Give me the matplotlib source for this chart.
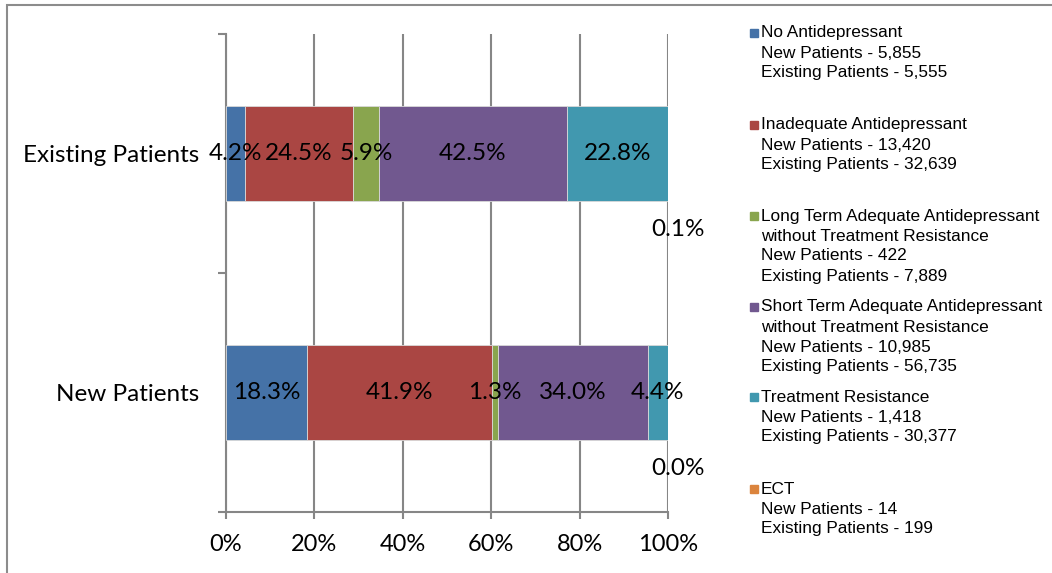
import matplotlib

matplotlib.use("Agg")
import matplotlib.pyplot as plt
from matplotlib.patches import Rectangle

# data
groups = ["New Patients", "Existing Patients"]
series = [
    "No Antidepressant",
    "Inadequate Antidepressant",
    "Long Term Adequate Antidepressant\nwithout Treatment Resistance",
    "Short Term Adequate Antidepressant\nwithout Treatment Resistance",
    "Treatment Resistance",
    "ECT",
]
new_pct = [18.3, 41.9, 1.3, 34.0, 4.4, 0.0]
existing_pct = [4.2, 24.5, 5.9, 42.5, 22.8, 0.1]
new_counts = ["5,855", "13,420", "422", "10,985", "1,418", "14"]
existing_counts = ["5,555", "32,639", "7,889", "56,735", "30,377", "199"]
colors = ["#4572A7", "#AA4643", "#89A54E", "#71588F", "#4198AF", "#DB843D"]

W, H = 1052, 573
fig = plt.figure(figsize=(W / 100, H / 100), dpi=100)
fig.patches.append(Rectangle((7 / W, -0.1), 1.2, 1 - 5 / H + 0.1, transform=fig.transFigure,
                             fill=False, edgecolor="#8c8c8c", linewidth=1.5))

ax = fig.add_axes([226 / W, 1 - 512 / H, 442 / W, 478 / H])
grid_c = "#868686"
label_font = ["Lato", "DejaVu Sans"]

rows = [new_pct, existing_pct]
for yi, vals in enumerate(rows):
    left = 0.0
    for si, v in enumerate(vals):
        ax.barh(yi, v, left=left, height=0.4, color=colors[si], edgecolor="#d9d9d9",
                linewidth=0.6, zorder=3)
        cx = left + v / 2
        if si == len(vals) - 1:
            # tiny ECT segment: label drops below the bar
            ax.text(102.3, yi - 0.32, f"{v:.1f}%", ha="center", va="center",
                    fontsize=17.5, family=label_font, zorder=4)
        else:
            ax.text(cx, yi, f"{v:.1f}%", ha="center", va="center", fontsize=17.5,
                    family=label_font, zorder=4)
        left += v

ax.set_xlim(0, 100)
ax.set_ylim(-0.5, 1.5)
ax.set_xticks(range(0, 101, 20))
ax.set_xticklabels([f"{t}%" for t in range(0, 101, 20)], fontsize=17, family=label_font)
ax.set_yticks([0, 1])
ax.set_yticklabels(groups, fontsize=17.5, family=label_font)
ax.set_yticks([-0.5, 0.5, 1.5], minor=True)
ax.tick_params(axis="y", which="major", length=0, pad=19)
ax.tick_params(axis="y", which="minor", length=6, width=1.5, color=grid_c, direction="out")
ax.tick_params(axis="x", length=5, width=1.5, color=grid_c, direction="out", pad=11)
ax.xaxis.grid(True, color=grid_c, linewidth=1.5, zorder=0)
ax.set_axisbelow(True)
for s in ["top", "right"]:
    ax.spines[s].set_visible(False)
for s in ["left", "bottom"]:
    ax.spines[s].set_color(grid_c)
    ax.spines[s].set_linewidth(1.5)

# legend, drawn as text blocks
legend_tops = [33, 125, 216, 307, 397, 489]
line_h = 20
for i, name in enumerate(series):
    lines = name.split("\n") + [f"New Patients - {new_counts[i]}",
                                f"Existing Patients - {existing_counts[i]}"]
    y0 = legend_tops[i]
    fig.patches.append(Rectangle((750 / W, 1 - (y0 + 4) / H), 8 / W, 8 / H,
                                 transform=fig.transFigure, color=colors[i]))
    for j, ln in enumerate(lines):
        fig.text(761 / W, 1 - (y0 + j * line_h) / H, ln, ha="left", va="center",
                 fontsize=12.4, family="Liberation Sans")

fig.savefig("out.png", dpi=100)
